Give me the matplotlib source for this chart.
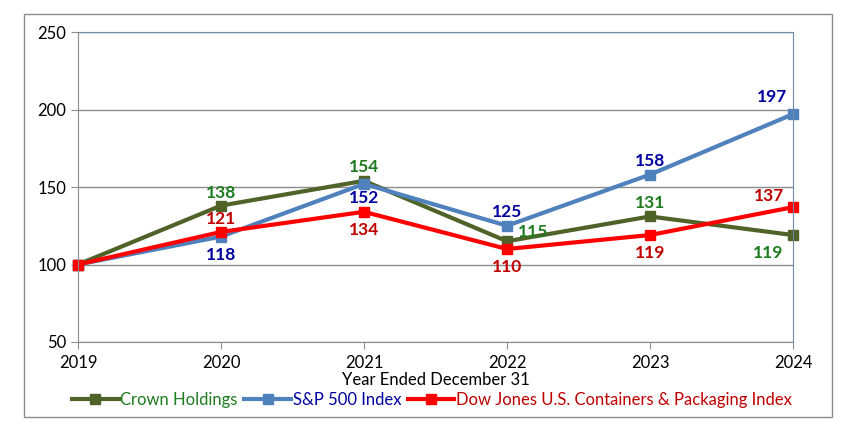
import matplotlib.pyplot as plt
from matplotlib.patches import Rectangle

years = [2019, 2020, 2021, 2022, 2023, 2024]
crown = [100, 138, 154, 115, 131, 119]
sp500 = [100, 118, 152, 125, 158, 197]
dowjones = [100, 121, 134, 110, 119, 137]

series_names = ['Crown Holdings', 'S&P 500 Index', 'Dow Jones U.S. Containers & Packaging Index']
line_colors = ['#4F6228', '#4F81BD', '#FF0000']
label_colors = ['#1E7B1E', '#0000A0', '#C00000']

# label offsets (points) per value, hand placed like the original
crown_off = [None, (0, 9), (0, 10), (19, 7), (0, 10), (-18, -13)]
sp_off = [None, (0, -13), (0, -10), (0, 10), (0, 10), (-15, 12)]
dj_off = [None, (0, 9), (0, -13), (0, -13), (0, -13), (-17, 8)]

plt.rcParams['font.family'] = ['Lato', 'DejaVu Sans']

fig = plt.figure(figsize=(8.45, 4.26), dpi=100)
ax = fig.add_axes([78 / 845, 1 - 342 / 426, (793 - 78) / 845, (342 - 32) / 426])

fig.patches.append(Rectangle((24 / 845, 1 - 417 / 426), (832 - 24) / 845, (417 - 14) / 426,
                             transform=fig.transFigure, fill=False, edgecolor='#8C8C8C', linewidth=1))

data = [crown, sp500, dowjones]
offs = [crown_off, sp_off, dj_off]
for vals, name, lc, tc, off in zip(data, series_names, line_colors, label_colors, offs):
    ax.plot(years, vals, color=lc, linewidth=3, marker='s', markersize=7, label=name, clip_on=False)
    for x, y, o in zip(years, vals, off):
        if o is None:
            continue
        ax.annotate(str(y), (x, y), xytext=o, textcoords='offset points', ha='center', va='center',
                    color=tc, fontsize=12.5, fontweight='bold')

ax.set_xlim(2019, 2024)
ax.set_ylim(50, 250)
ax.set_yticks([50, 100, 150, 200, 250])
ax.set_xticks(years)
ax.grid(axis='y', color='#8C8C8C', linewidth=1)
ax.set_axisbelow(True)
for s in ['top', 'right']:
    ax.spines[s].set_color('#6E8CA8')
ax.spines['left'].set_color('#8C8C8C')
ax.spines['bottom'].set_color('#8C8C8C')
ax.tick_params(axis='both', labelsize=12, color='#8C8C8C', length=5, direction='out')
ax.tick_params(axis='x', pad=4)
ax.set_xlabel('Year Ended December 31', fontsize=12, labelpad=1)

handles, labels = ax.get_legend_handles_labels()
leg = fig.legend(handles, labels, loc='center', bbox_to_anchor=(432 / 845, 1 - 400 / 426), ncol=3,
                 frameon=False, fontsize=12, handlelength=2.8, columnspacing=0.4,
                 handletextpad=0.1, borderaxespad=0, borderpad=0)
for txt, c in zip(leg.get_texts(), label_colors):
    txt.set_color(c)

fig.savefig('out.png', dpi=100)
